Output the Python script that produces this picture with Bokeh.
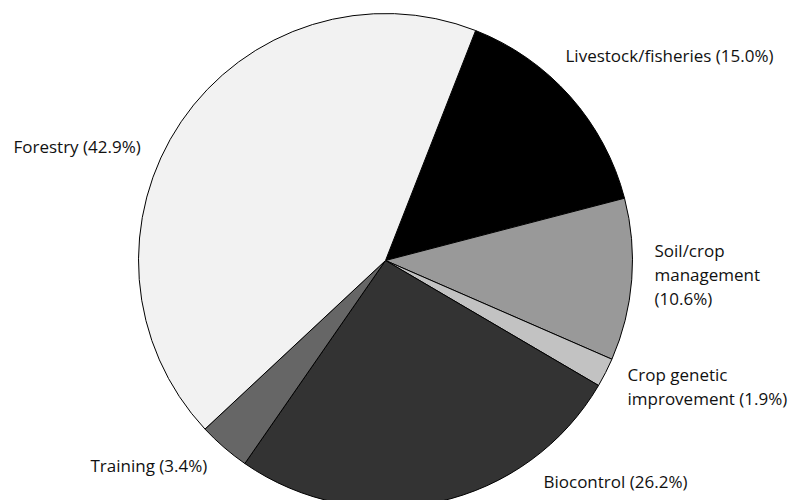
from math import radians
from bokeh.plotting import figure
from bokeh.models import Range1d, ColumnDataSource
from bokeh.core.properties import value
from bokeh.embed import file_html
from bokeh.resources import INLINE

# Data (clockwise from the top-right)
categories = ["Livestock/fisheries", "Soil/crop management", "Crop genetic improvement",
              "Biocontrol", "Training", "Forestry"]
shares = [15.0, 10.6, 1.9, 26.2, 3.4, 42.9]
labels = ["Livestock/fisheries (15.0%)", "Soil/crop\nmanagement\n(10.6%)",
          "Crop genetic\nimprovement (1.9%)", "Biocontrol (26.2%)",
          "Training (3.4%)", "Forestry (42.9%)"]

# Styling / layout
colors = ["#000000", "#999999", "#c2c2c2", "#333333", "#666666", "#f2f2f2"]
W, H = 795, 500
cx, cy, R = 385, H - 260, 247
offset_deg = 21.4  # first slice boundary, clockwise from 12 o'clock
label_x = [565, 654, 627, 543, 90, 13]
label_y = [H - 55, H - 274, H - 386, H - 481, H - 465, H - 146]

starts, ends = [], []
cum = 0.0
for s in shares:
    a0 = 90 - offset_deg - cum * 3.6
    a1 = a0 - s * 3.6
    starts.append(radians(a0))
    ends.append(radians(a1))
    cum += s

src = ColumnDataSource(dict(cat=categories, share=shares, start=starts, end=ends, color=colors))

p = figure(width=W, height=H, x_range=Range1d(0, W), y_range=Range1d(0, H),
           output_backend="svg", toolbar_location=None, min_border=0)
p.axis.visible = False
p.grid.visible = False
p.outline_line_color = None
p.background_fill_color = "white"

p.wedge(x=cx, y=cy, radius=R, start_angle="start", end_angle="end", direction="clock",
        fill_color="color", line_color="black", line_width=1, source=src)

lsrc = ColumnDataSource(dict(x=label_x, y=label_y, text=labels))
p.text(x="x", y="y", text="text", source=lsrc, text_font=value("Open Sans"),
       text_font_size="17px", text_color="#111111", text_baseline="middle",
       text_align="left", text_line_height=1.04)

open("out.html", "w").write(file_html(p, INLINE))
